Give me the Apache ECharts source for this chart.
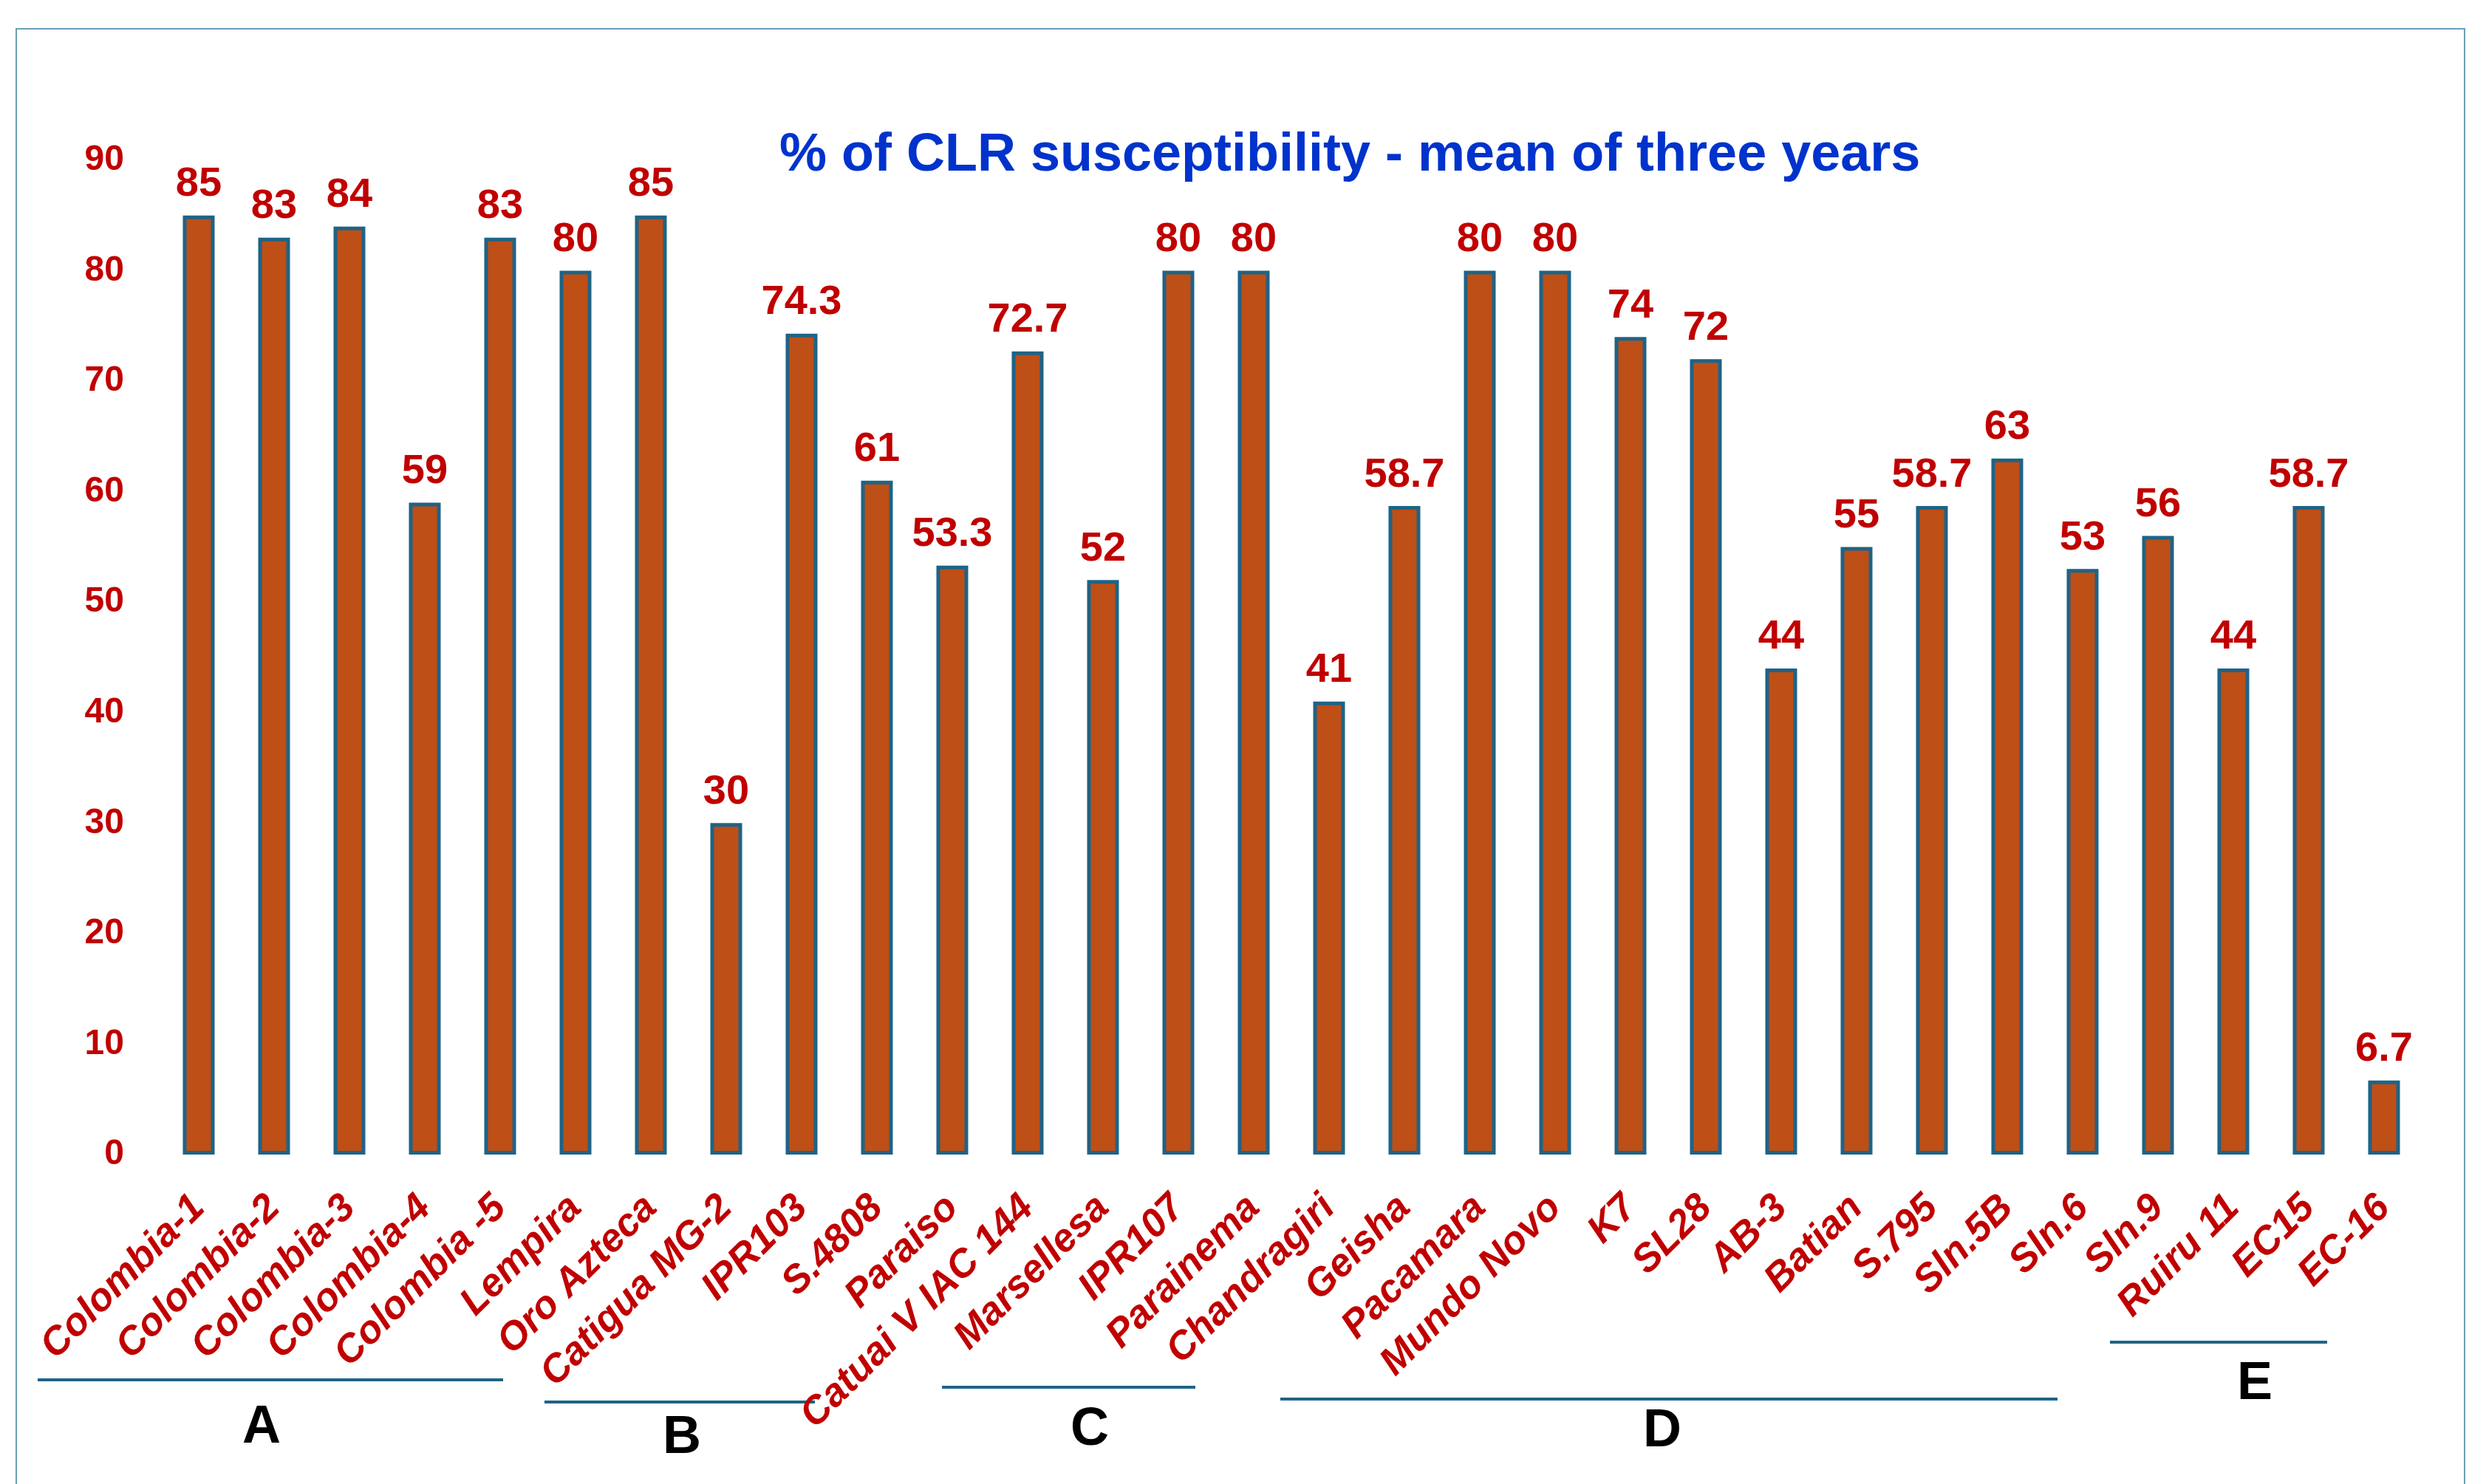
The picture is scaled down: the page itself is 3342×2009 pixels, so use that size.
<!DOCTYPE html>
<html><head><meta charset="utf-8">
<script src="https://cdn.jsdelivr.net/npm/echarts@6/dist/echarts.min.js"></script>
<style>html,body{margin:0;padding:0;background:#fff}#c{width:3342px;height:2009px}</style>
</head><body><div id="c"></div>
<script>
const categories = ['Colombia-1','Colombia-2','Colombia-3','Colombia-4','Colombia -5','Lempira','Oro Azteca','Catigua MG-2','IPR103','S.4808','Paraiso','Catuai V IAC 144','Marsellesa','IPR107','Parainema','Chandragiri','Geisha','Pacamara','Mundo Novo','K7','SL28','AB-3','Batian','S.795','Sln.5B','Sln.6','Sln.9','Ruiru 11','EC15','EC-16'];
const values = [85,83,84,59,83,80,85,30,74.3,61,53.3,72.7,52,80,80,41,58.7,80,80,74,72,44,55,58.7,63,53,56,44,58.7,6.7];
const groupNames = ['A','B','C','D','E'];
const titleText = '% of CLR susceptibility - mean of three years';

// layout of group annotations (pixels): [x1, x2, lineY, letterX, letterY]
const groupLayout = [
  [51, 681, 1868, 354, 1933],
  [737, 1103, 1898, 923, 1947],
  [1275, 1618, 1878, 1475, 1936],
  [1733, 2785, 1894, 2250, 1938],
  [2856, 3150, 1817, 3052, 1874]
];

const FONT = "'Liberation Sans', Arial, sans-serif";
const RED = '#C00000';
const chart = echarts.init(document.getElementById('c'), null, {renderer: 'canvas'});

const graphics = [{
  type: 'rect', shape: {x: 22, y: 39, width: 3314, height: 2000},
  style: {fill: null, stroke: '#6A9FB8', lineWidth: 2}, silent: true, z: -1
}];
groupNames.forEach((g, i) => {
  const L = groupLayout[i];
  graphics.push({type: 'line', shape: {x1: L[0], y1: L[2], x2: L[1], y2: L[2]},
    style: {stroke: '#1F6386', lineWidth: 4}});
  graphics.push({type: 'text', x: L[3], y: L[4],
    style: {text: g, fill: '#000', font: 'bold 72px ' + FONT, textAlign: 'center', textVerticalAlign: 'middle'}});
});

chart.setOption({
  backgroundColor: '#fff',
  animation: false,
  title: {
    text: titleText, left: 1050, top: 170,
    textStyle: {color: '#0033CC', fontWeight: 'bold', fontSize: 72, fontFamily: FONT}
  },
  grid: {left: 218, right: 64, top: 217, bottom: 446, containLabel: false},
  xAxis: {
    type: 'category', data: categories,
    axisLine: {show: false}, axisTick: {show: false},
    axisLabel: {interval: 0, rotate: 45, margin: 64, color: RED, fontWeight: 'bold',
      fontStyle: 'italic', fontSize: 53, fontFamily: FONT}
  },
  yAxis: {
    type: 'value', min: 0, max: 90, interval: 10,
    axisLine: {show: false}, axisTick: {show: false}, splitLine: {show: false},
    axisLabel: {color: RED, fontWeight: 'bold', fontSize: 48, fontFamily: FONT, margin: 50}
  },
  series: [{
    type: 'bar', data: values, barWidth: 43,
    itemStyle: {color: '#BE4F16', borderColor: '#1F6386', borderWidth: 5},
    label: {show: true, position: 'top', distance: 14, color: RED, fontWeight: 'bold',
      fontSize: 56, fontFamily: FONT}
  }],
  graphic: graphics
});
</script>
</body></html>
